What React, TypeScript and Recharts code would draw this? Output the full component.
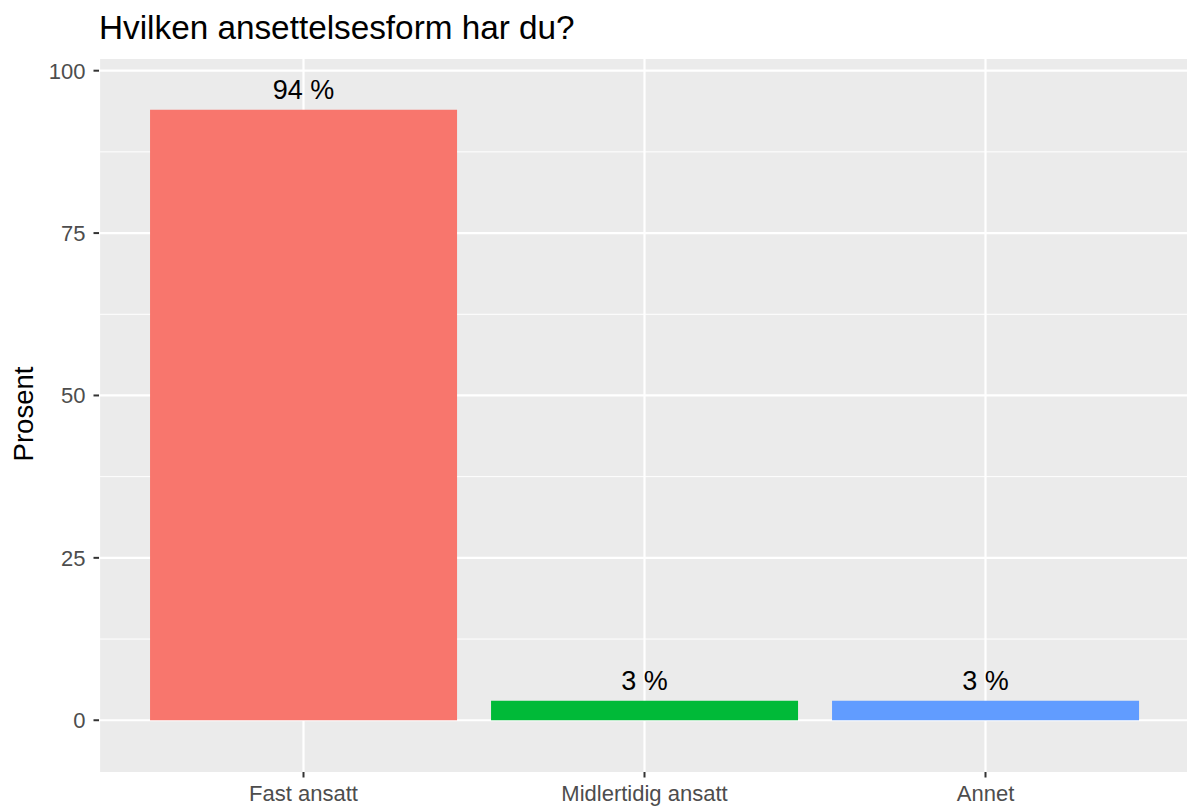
import { BarChart, Bar, XAxis, YAxis, CartesianGrid, Cell, LabelList } from "recharts";

const categories = ["Fast ansatt", "Midlertidig ansatt", "Annet"];
const percents = [94, 3, 3];
const barColors = ["#F8766D", "#00BA38", "#619CFF"];
const yTicks = [0, 25, 50, 75, 100];
const yMinorLines = [12.5, 37.5, 62.5, 87.5];

const data = categories.map((name, i) => ({ name, value: percents[i] }));

const FONT = "'Liberation Sans', Arial, Helvetica, sans-serif";

export default function App() {
  return (
    <div
      style={{
        position: "absolute",
        left: 0,
        top: 0,
        width: 1187,
        height: 810,
        overflow: "hidden",
        background: "#fff",
        fontFamily: FONT,
      }}
    >
      {/* title */}
      <div
        style={{
          position: "absolute",
          left: 99,
          top: 11,
          fontSize: 33.3,
          lineHeight: 1,
          color: "#000",
          whiteSpace: "nowrap",
        }}
      >
        Hvilken ansettelsesform har du?
      </div>

      {/* y axis title */}
      <div
        style={{
          position: "absolute",
          left: 24,
          top: 414,
          fontSize: 27.5,
          lineHeight: 1,
          color: "#000",
          whiteSpace: "nowrap",
          transform: "translate(-50%, -50%) rotate(-90deg)",
        }}
      >
        Prosent
      </div>

      <BarChart
        width={1190}
        height={810}
        data={data}
        margin={{ top: 59, right: 0, bottom: 0, left: 0 }}
        barCategoryGap="5%"
        style={{ fontFamily: FONT }}
      >
        <CartesianGrid
          fill="#EBEBEB"
          stroke="#FFFFFF"
          strokeWidth={1}
          vertical={false}
          horizontalValues={yMinorLines}
        />
        <CartesianGrid stroke="#FFFFFF" strokeWidth={2.2} horizontalValues={yTicks} />
        <XAxis
          dataKey="name"
          type="category"
          height={38}
          padding={{ left: 34, right: 34 }}
          axisLine={false}
          tickLine={{ stroke: "#333333", strokeWidth: 2 }}
          tickSize={5.5}
          tickMargin={8}
          tick={{ fontSize: 22, fill: "#4D4D4D" }}
          interval={0}
        />
        <YAxis
          width={99}
          type="number"
          domain={[-7.97, 101.8]}
          ticks={yTicks}
          allowDataOverflow
          axisLine={false}
          tickLine={{ stroke: "#333333", strokeWidth: 2 }}
          tickSize={5.5}
          tickMargin={8}
          tick={{ fontSize: 22, fill: "#4D4D4D" }}
        />
        <Bar dataKey="value" isAnimationActive={false}>
          {data.map((d, i) => (
            <Cell key={d.name} fill={barColors[i]} />
          ))}
          <LabelList
            dataKey="value"
            position="top"
            offset={10.5}
            formatter={(v: number) => `${v} %`}
            style={{ fontSize: 27, fill: "#000" }}
          />
        </Bar>
      </BarChart>
    </div>
  );
}
